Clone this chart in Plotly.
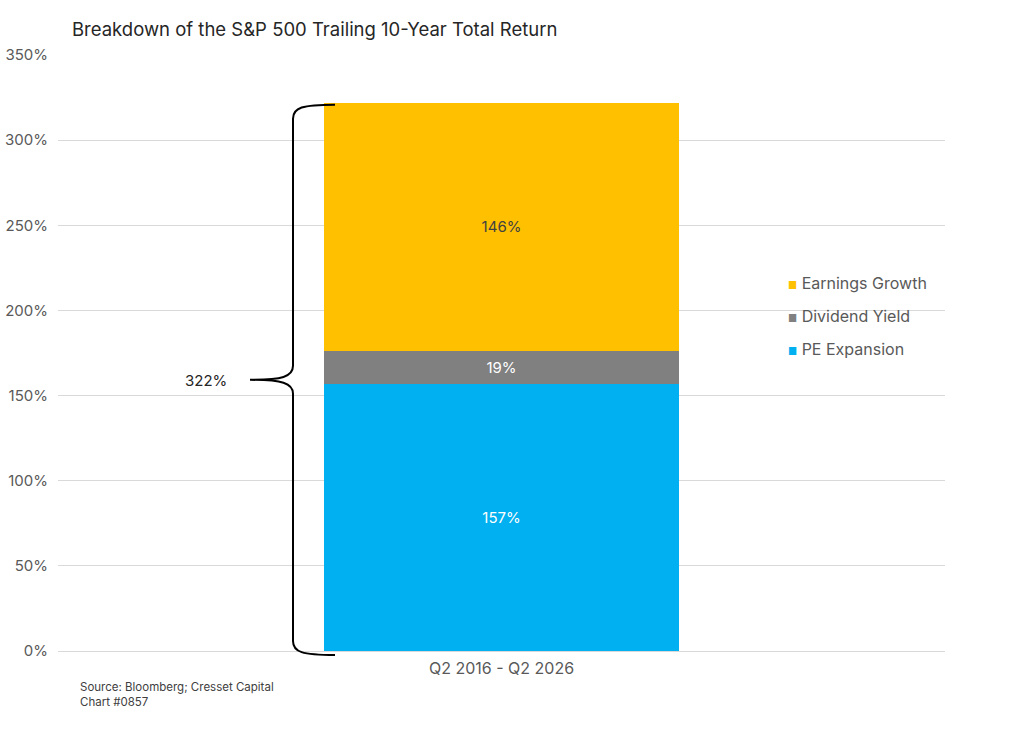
import plotly.graph_objects as go

# ---- data ----
period = ["Q2 2016 - Q2 2026"]
series_names = ["PE Expansion", "Dividend Yield", "Earnings Growth"]
pe_expansion = [157]
dividend_yield = [19]
earnings_growth = [146]
y_tick_vals = [0, 50, 100, 150, 200, 250, 300, 350]
y_tick_text = ["0%", "50%", "100%", "150%", "200%", "250%", "300%", "350%"]
total_label = "322%"
title_text = "Breakdown of the S&P 500 Trailing 10-Year Total Return"
source_text = "Source: Bloomberg; Cresset Capital<br>Chart #0857"

colors = ["#00B0F0", "#808080", "#FFC000"]
text_colors = ["#FFFFFF", "#FFFFFF", "#404040"]
FONT = "Inter, Lato, sans-serif"

W, H = 1024, 744
L, R, T, B = 58, 79, 55, 93
PW, PH = W - L - R, H - T - B
YMAX = 350


def px_x(x):
    return (x - L) / PW


def px_y(y):
    return (H - B - y) / PH


fig = go.Figure()
for name, vals, col, tcol in zip(series_names, [pe_expansion, dividend_yield, earnings_growth], colors, text_colors):
    fig.add_trace(go.Bar(
        x=period, y=vals, name=name, marker=dict(color=col, line=dict(width=0)),
        width=0.4, texttemplate="%{y}%", textposition="inside", insidetextanchor="middle",
        textfont=dict(family=FONT, size=15, color=tcol), constraintext="none",
        showlegend=False, hoverinfo="skip",
    ))

# brace spanning the total
total = pe_expansion[0] + dividend_yield[0] + earnings_growth[0]
y_top = H - B - total / YMAX * PH + 2
y_bot = H - B + 4
y_mid = H - B - (total / 2) / YMAX * PH + 3
xv, xe, xt = 293, 335, 250


def P(x, y):
    return f"{px_x(x):.5f},{px_y(y):.5f}"


path = (f"M {P(xe, y_top)} C {P(302, y_top)} {P(xv, y_top + 3)} {P(xv, y_top + 14)} "
        f"L {P(xv, y_mid - 14)} C {P(xv, y_mid - 3)} {P(282, y_mid)} {P(xt, y_mid)} "
        f"C {P(282, y_mid)} {P(xv, y_mid + 3)} {P(xv, y_mid + 14)} "
        f"L {P(xv, y_bot - 14)} C {P(xv, y_bot - 3)} {P(302, y_bot)} {P(xe, y_bot)}")
fig.add_shape(type="path", path=path, xref="paper", yref="paper",
              line=dict(color="#000000", width=2), layer="above")

annotations = [
    dict(text=total_label, x=px_x(229), y=px_y(y_mid + 1), xref="paper", yref="paper",
         xanchor="right", yanchor="middle", showarrow=False,
         font=dict(family=FONT, size=15, color="#262626")),
    dict(text=source_text, x=px_x(78), y=px_y(678), xref="paper", yref="paper",
         xanchor="left", yanchor="top", align="left", showarrow=False,
         font=dict(family=FONT, size=11.5, color="#404040")),
]
# legend entries (top to bottom: reverse stacking order)
for i, (name, col) in enumerate(zip(series_names[::-1], colors[::-1])):
    annotations.append(dict(
        text=f'<span style="color:{col}; font-size:10px">■</span> {name}',
        x=px_x(786), y=px_y(283 + 33 * i), xref="paper", yref="paper",
        xanchor="left", yanchor="middle", showarrow=False,
        font=dict(family=FONT, size=16, color="#595959")))

fig.update_layout(
    width=W, height=H, barmode="stack",
    margin=dict(l=L, r=R, t=T, b=B, pad=0),
    paper_bgcolor="white", plot_bgcolor="white",
    title=dict(text=title_text, x=72 / W, xanchor="left", y=1 - 30 / H, yanchor="middle",
               font=dict(family=FONT, size=18.5, color="#262626")),
    xaxis=dict(showgrid=False, showline=False, zeroline=False, ticks="", automargin=False,
               tickfont=dict(family=FONT, size=16, color="#595959"), range=[-0.5, 0.5],
               ticklabelstandoff=6),
    yaxis=dict(range=[0, YMAX], tickvals=y_tick_vals, ticktext=y_tick_text, automargin=False,
               showgrid=True, gridcolor="#D9D9D9", gridwidth=1, zeroline=True,
               zerolinecolor="#D9D9D9", zerolinewidth=1, showline=False, ticks="",
               tickfont=dict(family=FONT, size=15, color="#595959"), ticklabelstandoff=9),
    annotations=annotations,
    showlegend=False,
)

fig.write_html("out.html")
